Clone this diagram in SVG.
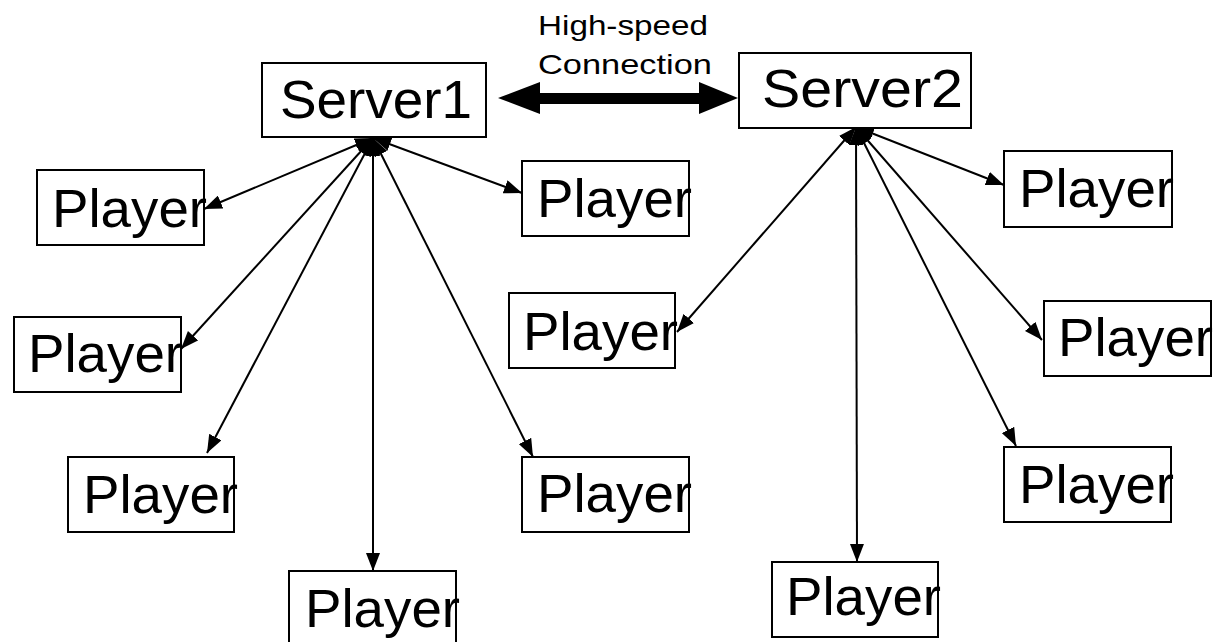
<svg xmlns="http://www.w3.org/2000/svg" width="1219" height="642" viewBox="0 0 1219 642">
<style>
.box{fill:#fff;stroke:#000;stroke-width:2}
.big{font-family:"Liberation Sans",Arial,sans-serif;font-size:54px;fill:#000}
.small{font-family:"Liberation Sans",Arial,sans-serif;font-size:28px;fill:#000;text-anchor:middle}
.c{stroke:#000;stroke-width:2;fill:none;marker-start:url(#ah);marker-end:url(#ah)}
</style>
<defs>
<marker id="ah" markerUnits="userSpaceOnUse" markerWidth="20" markerHeight="14" refX="18" refY="7" orient="auto-start-reverse">
<path d="M0,0 L18,7 L0,14 z" fill="#000"/>
</marker>
</defs>
<rect width="1219" height="642" fill="#fff"/>
<g id="connectors">
<line class="c" x1="373" y1="138" x2="204" y2="209"/>
<line class="c" x1="373" y1="138" x2="181" y2="349"/>
<line class="c" x1="373" y1="138" x2="207" y2="453"/>
<line class="c" x1="373" y1="138" x2="373" y2="571"/>
<line class="c" x1="373" y1="138" x2="522" y2="193"/>
<line class="c" x1="373" y1="138" x2="533" y2="457"/>
<line class="c" x1="856" y1="127" x2="677" y2="332"/>
<line class="c" x1="856" y1="127" x2="1004" y2="185"/>
<line class="c" x1="856" y1="127" x2="1042" y2="340"/>
<line class="c" x1="856" y1="127" x2="1016" y2="446"/>
<line class="c" x1="856" y1="127" x2="857" y2="562"/>
<g id="highspeed">
<rect x="538" y="93" width="163" height="11" fill="#000"/>
<polygon points="498,98 540,82 540,114" fill="#000"/>
<polygon points="738,98 699,82 699,114" fill="#000"/>
<text class="small" x="623" y="35" textLength="170" lengthAdjust="spacingAndGlyphs">High-speed</text>
<text class="small" x="625" y="74" textLength="174" lengthAdjust="spacingAndGlyphs">Connection</text>
</g>
</g>
<g id="server1"><rect class="box" x="262" y="63" width="224" height="74"/><text class="big" x="280" y="118" textLength="192" lengthAdjust="spacingAndGlyphs">Server1</text></g>
<g id="server2"><rect class="box" x="739" y="53" width="232" height="75"/><text class="big" x="762" y="107" textLength="201" lengthAdjust="spacingAndGlyphs">Server2</text></g>
<g id="p1"><rect class="box" x="37" y="170" width="167" height="75"/><text class="big" x="52" y="227" textLength="155" lengthAdjust="spacingAndGlyphs">Player</text></g>
<g id="p2"><rect class="box" x="14" y="317" width="167" height="75"/><text class="big" x="28" y="372" textLength="155" lengthAdjust="spacingAndGlyphs">Player</text></g>
<g id="p3"><rect class="box" x="68" y="457" width="166" height="75"/><text class="big" x="83" y="513" textLength="155" lengthAdjust="spacingAndGlyphs">Player</text></g>
<g id="p4"><rect class="box" x="289" y="571" width="167" height="75"/><text class="big" x="305" y="627" textLength="155" lengthAdjust="spacingAndGlyphs">Player</text></g>
<g id="p5"><rect class="box" x="522" y="161" width="167" height="75"/><text class="big" x="537" y="217" textLength="155" lengthAdjust="spacingAndGlyphs">Player</text></g>
<g id="p6"><rect class="box" x="522" y="457" width="167" height="75"/><text class="big" x="537" y="512" textLength="155" lengthAdjust="spacingAndGlyphs">Player</text></g>
<g id="p7"><rect class="box" x="509" y="293" width="166" height="75"/><text class="big" x="523" y="350" textLength="155" lengthAdjust="spacingAndGlyphs">Player</text></g>
<g id="p8"><rect class="box" x="1004" y="151" width="168" height="76"/><text class="big" x="1019" y="207" textLength="155" lengthAdjust="spacingAndGlyphs">Player</text></g>
<g id="p9"><rect class="box" x="1044" y="301" width="167" height="75"/><text class="big" x="1058" y="356" textLength="155" lengthAdjust="spacingAndGlyphs">Player</text></g>
<g id="p10"><rect class="box" x="1004" y="447" width="167" height="75"/><text class="big" x="1019" y="503" textLength="155" lengthAdjust="spacingAndGlyphs">Player</text></g>
<g id="p11"><rect class="box" x="772" y="562" width="166" height="75"/><text class="big" x="786" y="615" textLength="155" lengthAdjust="spacingAndGlyphs">Player</text></g>
</svg>
